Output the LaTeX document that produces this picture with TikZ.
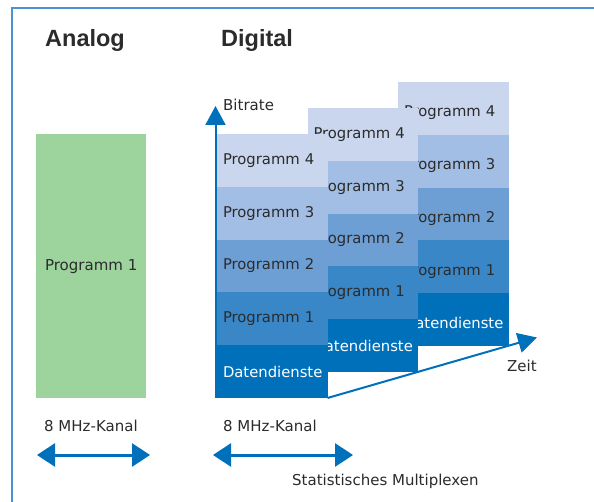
\documentclass[tikz,border=0pt]{standalone}
\usepackage{fontspec}
\setmainfont{DejaVu Sans}
\newfontfamily\headfont{Liberation Sans}
\usetikzlibrary{arrows.meta,positioning}
\definecolor{frameblue}{HTML}{4A92D2}
\definecolor{arrowblue}{HTML}{0070BB}
\definecolor{progD}{HTML}{C9D6EE}
\definecolor{progC}{HTML}{A3BEE4}
\definecolor{progB}{HTML}{6D9FD5}
\definecolor{progA}{HTML}{3A87C7}
\definecolor{daten}{HTML}{0070BB}
\definecolor{analoggreen}{HTML}{9DD39D}
\definecolor{txt}{HTML}{2B2B2B}
\tikzset{
  lbl/.style={text=txt, inner sep=0pt, font=\fontsize{15}{18}\selectfont},
  head/.style={text=txt, inner sep=0pt, font=\headfont\bfseries\fontsize{23.5}{26}\selectfont},
  cell/.style={rectangle, anchor=north west, minimum height=52.8pt, text width=98.5pt,
    inner xsep=6pt, inner ysep=0pt, outer sep=0pt, align=left, text=txt,
    font=\fontsize{14.8}{17}\selectfont},
  axis/.style={draw=arrowblue, line width=2pt, -{Triangle[length=19pt,width=20pt]}},
  span/.style={draw=arrowblue, line width=3pt, {Triangle[length=18pt,width=23pt]}-{Triangle[length=18pt,width=23pt]}},
}
% one column of the multiplex: #1 name, #2 x, #3 y of top, #4 extra cell options
\newcommand{\progstack}[4]{
  \node[cell, #4, fill=progD] (#1p4) at (#2,#3) {Programm 4};
  \node[cell, #4, fill=progC, below=0pt of #1p4] (#1p3) {Programm 3};
  \node[cell, #4, fill=progB, below=0pt of #1p3] (#1p2) {Programm 2};
  \node[cell, #4, fill=progA, below=0pt of #1p2] (#1p1) {Programm 1};
  \node[cell, #4, fill=daten, text=white, below=0pt of #1p1] (#1dd) {Datendienste};
}

\begin{document}
\begin{tikzpicture}[x=1pt, y=-1pt]
  \useasboundingbox (0,0) rectangle (594,502);
  % frame
  \draw[frameblue, line width=2pt] (12,502) -- (12,8) -- (594,8);
  % headings
  \node[head, anchor=west] (analog) at (45,40) {Analog};
  \node[head, anchor=west] (digital) at (221,40) {Digital};
  % analog channel
  \node[rectangle, fill=analoggreen, anchor=north west, minimum width=110pt,
    minimum height=264pt, lbl] (prog) at (36,134) {Programm 1};
  % digital channel, back to front
  \progstack{c}{398}{82}{text height=17pt, text depth=0pt}
  \progstack{b}{307.5}{108}{}
  \progstack{a}{217}{134}{}
  % axes
  \coordinate (origin) at (215.5,398);
  \coordinate (btop) at (215.5,106);
  \coordinate (ztip) at (537,337.5);
  \draw[axis] (origin) -- (btop);
  \draw[axis] (add.south east) -- (ztip);
  \node[lbl, anchor=west] (bitrate) at (223,105) {Bitrate};
  \node[lbl, anchor=west] (zeit) at (507,366) {Zeit};
  % channel widths
  \node[lbl, anchor=west] (kanal1) at (44,426) {8 MHz-Kanal};
  \node[lbl, anchor=west] (kanal2) at (223,426) {8 MHz-Kanal};
  \coordinate (s1l) at (37,455);
  \coordinate (s1r) at (150,455);
  \coordinate (s2l) at (213,455);
  \coordinate (s2r) at (353,455);
  \draw[span] (s1l) -- (s1r);
  \draw[span] (s2l) -- (s2r);
  \node[lbl, anchor=west] (statmux) at (292,481) {Statistisches Multiplexen};
\end{tikzpicture}
\end{document}
